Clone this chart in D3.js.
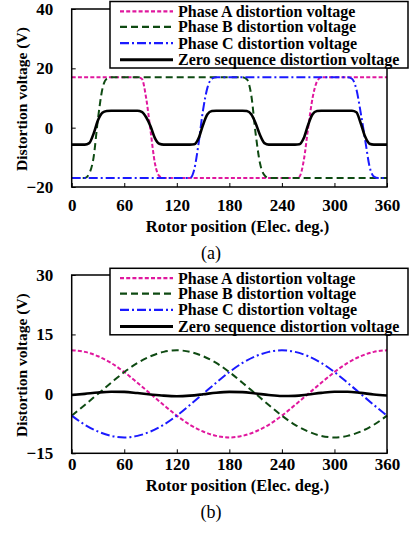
<!DOCTYPE html>
<html>
<head>
<meta charset="utf-8">
<script src="https://cdn.jsdelivr.net/npm/d3@7"></script>
<style>
  body { margin: 0; background: #fff; }
  svg { display: block; }
  text { font-family: "Liberation Serif", "Times New Roman", serif; fill: #000; }
</style>
</head>
<body>
<script>
var width = 410;
var height = 533;

// x categories (rotor position, elec. deg.)
var xTicks = [0, 60, 120, 180, 240, 300, 360];
var topYTicks = [-20, 0, 20, 40];
var bottomYTicks = [-15, 0, 15, 30];

var legendLabels = [
    'Phase A distortion voltage',
    'Phase B distortion voltage',
    'Phase C distortion voltage',
    'Zero sequence distortion voltage'
];

// (a) every 5 deg
var topAngles = [
    0, 5, 10, 15, 20, 25, 30, 35, 40, 45, 50, 55, 60, 65, 70, 75, 80, 85, 90, 95,
    100, 105, 110, 115, 120, 125, 130, 135, 140, 145, 150, 155, 160, 165, 170, 175,
    180, 185, 190, 195, 200, 205, 210, 215, 220, 225, 230, 235, 240, 245, 250, 255,
    260, 265, 270, 275, 280, 285, 290, 295, 300, 305, 310, 315, 320, 325, 330, 335,
    340, 345, 350, 355, 360
];
var topPhaseA = [
    17, 17, 17, 17, 17, 17, 17, 17, 17, 17, 17, 17, 17, 17, 17, 17,
    16.5, 10, -1, -12, -16.3, -17,
    -17, -17, -17, -17, -17, -17, -17, -17, -17, -17,
    -17, -17, -17, -17, -17, -17, -17, -17, -17, -17,
    -17, -17, -17, -17, -17, -17, -17, -17, -17, -17,
    -16.5, -11, 0, 10, 15.5,
    17, 17, 17, 17, 17, 17, 17, 17, 17, 17, 17, 17, 17, 17, 17, 17
];
var topPhaseB = [
    -17, -17, -17, -17,
    -15.5, -10, 3, 13, 16.5,
    17, 17, 17, 17, 17, 17, 17, 17, 17, 17,
    17, 17, 17, 17, 17, 17, 17, 17, 17, 17,
    17, 17, 17, 17, 17, 17, 17, 17, 17, 17, 17,
    16.3, 11, -2, -12, -16,
    -17, -17, -17, -17, -17, -17, -17, -17, -17, -17,
    -17, -17, -17, -17, -17, -17, -17, -17, -17, -17,
    -17, -17, -17, -17, -17, -17, -17, -17
];
var topPhaseC = [
    -17, -17, -17, -17, -17, -17, -17, -17, -17, -17,
    -17, -17, -17, -17, -17, -17, -17, -17, -17, -17,
    -17, -17, -17, -17, -17, -17, -17, -17,
    -14, -5, 6, 13.5, 16.5,
    17, 17, 17, 17, 17, 17, 17, 17, 17, 17,
    17, 17, 17, 17, 17, 17, 17, 17, 17, 17,
    17, 17, 17, 17, 17, 17, 17, 17, 17, 17, 17,
    16.5, 13, 5, -4, -13, -16.5,
    -17, -17, -17
];
var topZero = [
    -5.7, -5.7, -5.7, -5.7,
    -5.2, -2, 2.5, 5, 5.6,
    5.7, 5.7, 5.7, 5.7, 5.7, 5.7, 5.7,
    5.3, 3.5, 0.5, -3.5, -5.4,
    -5.7, -5.7, -5.7, -5.7, -5.7, -5.7, -5.7,
    -5.6, -3.5, 1, 4.5, 5.6,
    5.7, 5.7, 5.7, 5.7, 5.7, 5.7, 5.7,
    5.6, 4.5, 1.5, -2.5, -5.2,
    -5.7, -5.7, -5.7, -5.7, -5.7, -5.7, -5.7,
    -5.6, -3.5, 1, 4.5, 5.6,
    5.7, 5.7, 5.7, 5.7, 5.7, 5.7, 5.7,
    5.7, 5.2, 1.5, -3, -5.4,
    -5.7, -5.7, -5.7, -5.7
];

// (b) every 15 deg
var bottomAngles = [
    0, 15, 30, 45, 60, 75, 90, 105, 120, 135, 150, 165, 180,
    195, 210, 225, 240, 255, 270, 285, 300, 315, 330, 345, 360
];
var bottomPhaseA = [
    11, 10.6, 9.5, 7.8, 5.5, 2.8, 0, -2.8, -5.5, -7.8, -9.5, -10.6, -11,
    -10.6, -9.5, -7.8, -5.5, -2.8, 0, 2.8, 5.5, 7.8, 9.5, 10.6, 11
];
var bottomPhaseB = [
    -5.5, -2.8, 0, 2.8, 5.5, 7.8, 9.5, 10.6, 11, 10.6, 9.5, 7.8, 5.5,
    2.8, 0, -2.8, -5.5, -7.8, -9.5, -10.6, -11, -10.6, -9.5, -7.8, -5.5
];
var bottomPhaseC = [
    -5.5, -7.8, -9.5, -10.6, -11, -10.6, -9.5, -7.8, -5.5, -2.8, 0, 2.8, 5.5,
    7.8, 9.5, 10.6, 11, 10.6, 9.5, 7.8, 5.5, 2.8, 0, -2.8, -5.5
];
var bottomZero = [
    -0.3, 0, 0.35, 0.55, 0.5, 0.2, -0.15, -0.45, -0.6, -0.45, -0.1, 0.3, 0.5,
    0.45, 0.1, -0.3, -0.55, -0.5, -0.15, 0.25, 0.55, 0.55, 0.25, -0.15, -0.4
];

var styles = [
    { color: '#e0189e', width: 2, dash: '4,2.2' },
    { color: '#0e4a12', width: 2, dash: '7,4' },
    { color: '#1a1aff', width: 2, dash: '9,3,2,3' },
    { color: '#000000', width: 2.6, dash: null }
];

var svg = d3.select('body')
    .append('svg')
    .attr('width', width)
    .attr('height', height);

function drawPanel(p) {
    var xScale = d3.scaleLinear()
        .domain([0, 360])
        .range([71.7, 387]);

    var yScale = d3.scaleLinear()
        .domain(p.yDomain)
        .range([p.bottom, p.top]);

    var g = svg.append('g');

    var series = p.series.map(function (vals) {
        return p.angles.map(function (a, i) {
            return { x: a, y: vals[i] };
        });
    });

    var line = d3.line()
        .x(function (d) { return xScale(d.x); })
        .y(function (d) { return yScale(d.y); })
        .curve(d3.curveMonotoneX);

    g.selectAll('path.series')
        .data(series)
        .enter()
        .append('path')
        .attr('class', 'series')
        .attr('d', line)
        .attr('fill', 'none')
        .attr('stroke', function (d, i) { return styles[i].color; })
        .attr('stroke-width', function (d, i) { return styles[i].width; })
        .attr('stroke-dasharray', function (d, i) { return styles[i].dash; });

    // axes with inward ticks
    var xAxis = d3.axisBottom(xScale)
        .tickValues(xTicks)
        .tickSizeInner(-4)
        .tickSizeOuter(0);

    var yAxis = d3.axisLeft(yScale)
        .tickValues(p.yTicks)
        .tickSizeInner(-4)
        .tickSizeOuter(0)
        .tickPadding(18.5);

    var gx = g.append('g')
        .attr('transform', 'translate(0,' + p.bottom + ')')
        .call(xAxis);
    var gy = g.append('g')
        .attr('transform', 'translate(71.7,0)')
        .call(yAxis);

    [gx, gy].forEach(function (ax) {
        ax.select('.domain').remove();
        ax.selectAll('line').attr('stroke', '#000').attr('stroke-width', 1);
        ax.selectAll('text')
            .style('font-size', '17px')
            .style('font-weight', 'bold')
            .style('font-family', '"Liberation Serif", "Times New Roman", serif');
    });
    gx.selectAll('text').attr('dy', '0.35em').attr('y', p.tickLabelOffset);

    // frame
    g.append('rect')
        .attr('x', 71.7)
        .attr('y', p.top)
        .attr('width', 387 - 71.7)
        .attr('height', p.bottom - p.top)
        .attr('fill', 'none')
        .attr('stroke', '#000')
        .attr('stroke-width', 1.5);

    // axis titles
    g.append('text')
        .attr('transform', 'translate(27,' + ((p.top + p.bottom) / 2 + 1) + ') rotate(-90)')
        .attr('text-anchor', 'middle')
        .style('font-size', '15.5px')
        .style('font-weight', 'bold')
        .text('Distortion voltage (V)');

    g.append('text')
        .attr('x', 237.5)
        .attr('y', p.bottom + p.titleOffset)
        .attr('dy', '0.35em')
        .attr('text-anchor', 'middle')
        .style('font-size', '16.5px')
        .style('font-weight', 'bold')
        .text('Rotor position (Elec. deg.)');

    g.append('text')
        .attr('x', 211)
        .attr('y', p.bottom + p.captionOffset)
        .attr('dy', '0.35em')
        .attr('text-anchor', 'middle')
        .style('font-size', '18px')
        .text(p.caption);

    // legend
    var lg = g.append('g')
        .attr('transform', 'translate(110,' + p.legendTop + ')');

    lg.append('rect')
        .attr('width', 298)
        .attr('height', 66.5)
        .attr('fill', '#fff')
        .attr('stroke', '#000')
        .attr('stroke-width', 1.5);

    var rows = [9.8, 25.3, 41.6, 58.2];

    var item = lg.selectAll('g.item')
        .data(legendLabels)
        .enter()
        .append('g')
        .attr('class', 'item')
        .attr('transform', function (d, i) { return 'translate(0,' + rows[i] + ')'; });

    item.append('line')
        .attr('x1', 10)
        .attr('x2', 63)
        .attr('stroke', function (d, i) { return styles[i].color; })
        .attr('stroke-width', function (d, i) { return styles[i].width + 0.3; })
        .attr('stroke-dasharray', function (d, i) { return styles[i].dash; });

    item.append('text')
        .attr('x', 68)
        .attr('y', 5.5)
        .style('font-size', '16px')
        .style('font-weight', 'bold')
        .text(function (d) { return d; });
}

drawPanel({
    top: 9,
    bottom: 187,
    yDomain: [-20, 40],
    yTicks: topYTicks,
    angles: topAngles,
    series: [topPhaseA, topPhaseB, topPhaseC, topZero],
    legendTop: 1.5,
    tickLabelOffset: 18.5,
    titleOffset: 39.7,
    captionOffset: 66,
    caption: '(a)'
});

drawPanel({
    top: 275,
    bottom: 453.3,
    yDomain: [-15, 30],
    yTicks: bottomYTicks,
    angles: bottomAngles,
    series: [bottomPhaseA, bottomPhaseB, bottomPhaseC, bottomZero],
    legendTop: 268.3,
    tickLabelOffset: 10.7,
    titleOffset: 31.7,
    captionOffset: 58.4,
    caption: '(b)'
});
</script>
</body>
</html>
